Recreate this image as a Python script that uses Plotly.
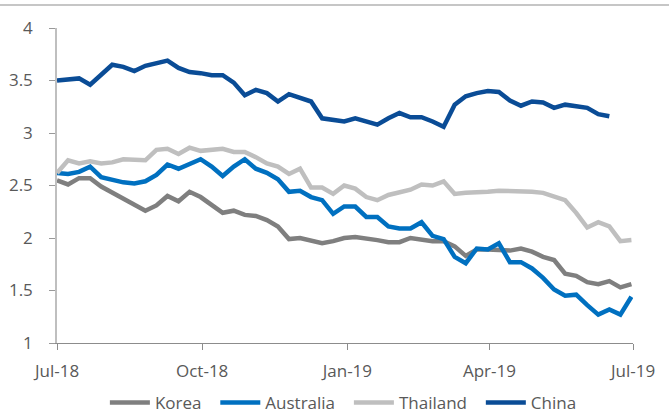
import pandas as pd
import plotly.graph_objects as go

# Weekly observations, Jul-2018 .. Jul-2019
dates = pd.date_range(start="2018-07-01", periods=53, freq="7D")

korea = [2.55, 2.51, 2.57, 2.57, 2.49, 2.43, 2.37, 2.31, 2.26, 2.31,
         2.40, 2.35, 2.44, 2.39, 2.31, 2.24, 2.26, 2.22, 2.21, 2.17,
         2.11, 1.99, 2.00, 1.97, 1.95, 1.97, 2.00, 2.01, 2.00, 1.98,
         1.96, 1.96, 2.00, 1.98, 1.97, 1.97, 1.92, 1.83, 1.89, 1.89,
         1.89, 1.88, 1.90, 1.87, 1.82, 1.79, 1.66, 1.64, 1.58, 1.56,
         1.59, 1.53, 1.56]

australia = [2.62, 2.61, 2.63, 2.68, 2.58, 2.55, 2.53, 2.52, 2.54, 2.60,
             2.70, 2.66, 2.71, 2.75, 2.68, 2.59, 2.68, 2.75, 2.66, 2.62,
             2.56, 2.44, 2.45, 2.39, 2.36, 2.23, 2.30, 2.30, 2.20, 2.20,
             2.11, 2.09, 2.09, 2.15, 2.02, 1.99, 1.82, 1.76, 1.90, 1.89,
             1.95, 1.77, 1.77, 1.71, 1.62, 1.51, 1.45, 1.46, 1.36, 1.27,
             1.32, 1.27, 1.44]

thailand = [2.62, 2.74, 2.71, 2.73, 2.71, 2.72, 2.75, 2.74, 2.74, 2.84,
            2.85, 2.80, 2.86, 2.83, 2.84, 2.85, 2.82, 2.82, 2.77, 2.71,
            2.68, 2.61, 2.66, 2.48, 2.48, 2.42, 2.50, 2.47, 2.39, 2.36,
            2.41, 2.43, 2.46, 2.51, 2.50, 2.54, 2.42, 2.43, 2.43, 2.44,
            2.45, 2.45, 2.44, 2.44, 2.43, 2.39, 2.36, 2.24, 2.10, 2.15,
            2.11, 1.97, 1.98]

china = [3.50, 3.51, 3.52, 3.46, 3.55, 3.65, 3.63, 3.59, 3.64, 3.67,
         3.69, 3.62, 3.58, 3.57, 3.55, 3.55, 3.48, 3.36, 3.41, 3.38,
         3.30, 3.37, 3.33, 3.30, 3.14, 3.12, 3.11, 3.14, 3.11, 3.08,
         3.14, 3.19, 3.15, 3.15, 3.11, 3.06, 3.27, 3.35, 3.38, 3.40,
         3.39, 3.31, 3.26, 3.30, 3.29, 3.24, 3.27, 3.25, 3.24, 3.18,
         3.16]

series_names = ["Korea", "Australia", "Thailand", "China"]
series_values = [korea, australia, thailand, china]
series_colors = ["#7f7f7f", "#0070c0", "#bfbfbf", "#0a4c96"]

y_ticks = [1, 1.5, 2, 2.5, 3, 3.5, 4]
x_tick_dates = ["2018-07-01", "2018-10-01", "2019-01-01", "2019-04-01", "2019-07-01"]
x_tick_labels = ["Jul-18", "Oct-18", "Jan-19", "Apr-19", "Jul-19"]

W, H = 669, 414
L, R, T, B = 57, 36, 28, 71
pw = W - L - R
ph = H - T - B

fig = go.Figure()
for name, vals, col in zip(series_names, series_values, series_colors):
    fig.add_trace(go.Scatter(
        x=dates[:len(vals)], y=vals, name=name + "\u00a0\u00a0", mode="lines",
        line=dict(color=col, width=4.5),
    ))

font_family = "Open Sans"
txt_color = "#595959"

fig.update_layout(
    width=W, height=H,
    margin=dict(l=L, r=R, t=T, b=B, autoexpand=False),
    paper_bgcolor="white", plot_bgcolor="white",
    font=dict(family=font_family, color=txt_color, size=16),
    showlegend=True,
    legend=dict(
        orientation="h", x=0.505, xanchor="center",
        y=-(385 - 343) / ph, yanchor="top",
        font=dict(size=17, color=txt_color),
        itemwidth=40, tracegroupgap=0,
        bgcolor="rgba(0,0,0,0)",
    ),
    xaxis=dict(
        type="date",
        range=["2018-07-01", "2019-07-01"],
        tickvals=x_tick_dates, ticktext=x_tick_labels,
        showgrid=False, zeroline=False, automargin=False,
        showline=True, linecolor="#8c8c8c", linewidth=1.3,
        ticks="outside", ticklen=6, tickcolor="#8c8c8c", tickwidth=1.3,
        tickfont=dict(size=17, color=txt_color),
        ticklabelstandoff=6,
    ),
    yaxis=dict(
        range=[1, 4],
        tickvals=y_ticks,
        ticktext=[("%g" % v) for v in y_ticks],
        showgrid=False, zeroline=False, automargin=False,
        showline=True, linecolor="#bfbfbf", linewidth=1.5,
        ticks="outside", ticklen=6, tickcolor="#999999", tickwidth=1.3,
        tickfont=dict(size=17, color=txt_color),
        ticklabelstandoff=13,
    ),
    shapes=[dict(
        type="line", xref="paper", yref="paper", layer="above",
        x0=-L / pw, x1=1 + R / pw,
        y0=1 + (T - 5) / ph, y1=1 + (T - 5) / ph,
        line=dict(color="#c6c6c6", width=2),
    )],
)

fig.write_html("out.html", config={"displayModeBar": False},
               post_script="document.body.style.margin='0';")
